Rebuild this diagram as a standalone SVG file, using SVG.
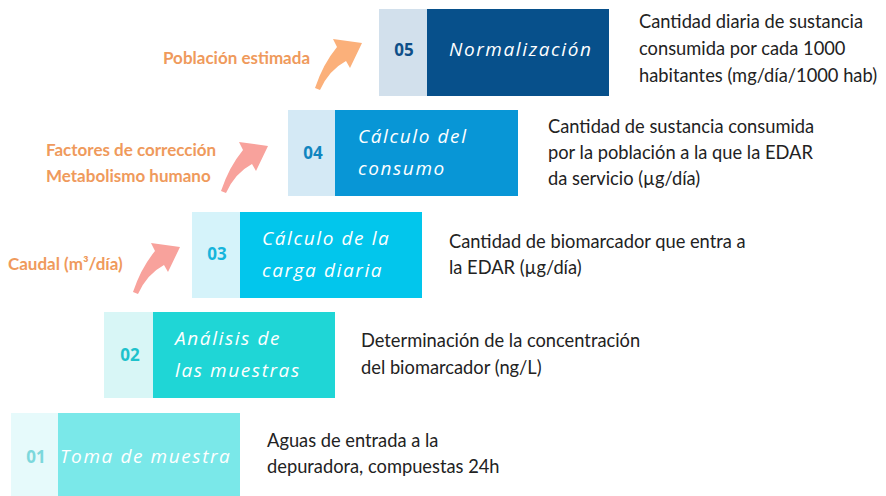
<svg xmlns="http://www.w3.org/2000/svg" width="886" height="496" viewBox="0 0 886 496">
<defs>
<style>
.num{font-family:"Open Sans","Liberation Sans",sans-serif;font-weight:700;font-size:17px;text-anchor:middle}
.ttl{font-family:"Open Sans","Liberation Sans",sans-serif;font-style:italic;font-size:19px;fill:#ffffff;letter-spacing:1.6px}
.desc{font-family:Lato,"Liberation Sans",sans-serif;font-size:18.3px;fill:#222222}
.lbl{font-family:Lato,"Liberation Sans",sans-serif;font-weight:700;font-size:17px;fill:#ef9a5c}
</style>
<path id="arw" d="M0,0 Q8,-24 22,-41 L18,-49 L47,-45 L35,-20 L31,-27 Q14,-18 5,2 Z"/>
</defs>
<rect width="886" height="496" fill="#ffffff"/>
<g id="step01">
<rect x="11" y="413" width="47" height="83" fill="#e6fafb"/>
<rect x="58" y="413" width="182" height="83" fill="#7ae8e9"/>
<text class="num" x="36" y="463" fill="#7cd8dc">01</text>
<text class="ttl" x="60" y="463">Toma de muestra</text>
<text class="desc" x="267" y="447">Aguas de entrada a la</text>
<text class="desc" x="267" y="473">depuradora, compuestas 24h</text>
</g>
<g id="step02">
<rect x="104" y="312" width="49" height="86" fill="#d8f6f6"/>
<rect x="153" y="312" width="182" height="86" fill="#1fd6d6"/>
<text class="num" x="130" y="361" fill="#1ec2cc">02</text>
<text class="ttl" x="175" y="345">Análisis de</text>
<text class="ttl" x="175" y="377">las muestras</text>
<text class="desc" x="361" y="347">Determinación de la concentración</text>
<text class="desc" x="361" y="374">del biomarcador (ng/L)</text>
</g>
<g id="step03">
<rect x="192" y="212" width="48" height="86" fill="#d5f3fa"/>
<rect x="240" y="212" width="182" height="86" fill="#02c6ec"/>
<text class="num" x="217" y="260" fill="#16b5dc">03</text>
<text class="ttl" x="262" y="245">Cálculo de la</text>
<text class="ttl" x="262" y="277">carga diaria</text>
<text class="desc" x="449" y="248">Cantidad de biomarcador que entra a</text>
<text class="desc" x="449" y="274">la EDAR (µg/día)</text>
</g>
<g id="step04">
<rect x="288" y="110" width="47" height="86" fill="#d4e9f5"/>
<rect x="335" y="110" width="183" height="86" fill="#0896d6"/>
<text class="num" x="313" y="159" fill="#1085bf">04</text>
<text class="ttl" x="358" y="143">Cálculo del</text>
<text class="ttl" x="358" y="175">consumo</text>
<text class="desc" x="548" y="133">Cantidad de sustancia consumida</text>
<text class="desc" x="548" y="159">por la población a la que la EDAR</text>
<text class="desc" x="548" y="185">da servicio (µg/día)</text>
</g>
<g id="step05">
<rect x="379" y="9" width="48" height="87" fill="#d2e0ec"/>
<rect x="427" y="9" width="182" height="87" fill="#07508b"/>
<text class="num" x="404" y="56" fill="#0e4f88">05</text>
<text class="ttl" x="449" y="56">Normalización</text>
<text class="desc" x="639" y="28">Cantidad diaria de sustancia</text>
<text class="desc" x="639" y="55">consumida por cada 1000</text>
<text class="desc" x="639" y="82">habitantes (mg/día/1000 hab)</text>
</g>
<g id="inputs">
<text class="lbl" x="163" y="64">Población estimada</text>
<text class="lbl" x="46" y="156">Factores de corrección</text>
<text class="lbl" x="46" y="182">Metabolismo humano</text>
<text class="lbl" x="8" y="270">Caudal (m³/día)</text>
</g>
<g id="connectors">
<use href="#arw" transform="translate(315,88)" fill="#fbb07a"/>
<use href="#arw" transform="translate(221,191)" fill="#f8a29c"/>
<use href="#arw" transform="translate(133,292)" fill="#f8a29c"/>
</g>
</svg>
